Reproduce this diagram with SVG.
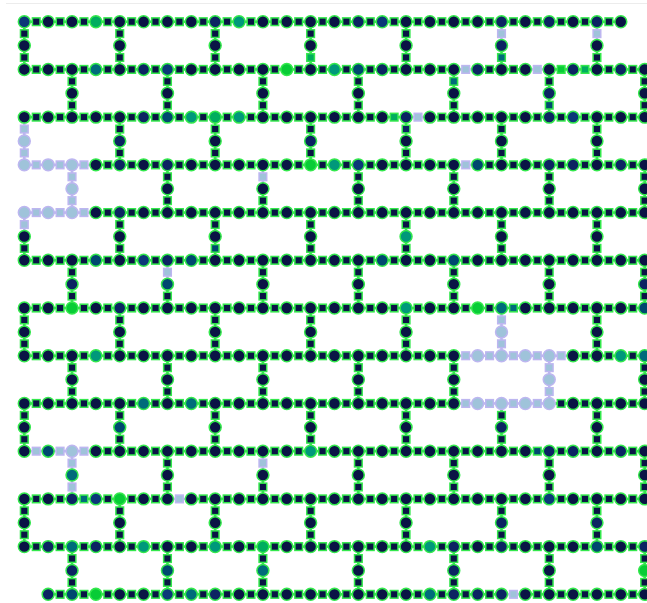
<svg xmlns="http://www.w3.org/2000/svg" xmlns:xlink="http://www.w3.org/1999/xlink" width="647" height="603" viewBox="0 0 647 603">
<style>
#e{fill:#0a1445;stroke:#33e84c}
#n{fill:#0a1445;stroke:#33e84c;stroke-width:.063px}
#n circle{r:.25px}
.a{fill:#0c2462}.b{fill:#0b3878}.t{fill:#00486f}.u{fill:#006b7a}.v{fill:#00987a}.w{fill:#00ad5e}.g{fill:#08cc36}
.x{fill:#9fc3da;stroke:#bdb6f0}
</style>
<defs>
<g id="h"><path d="M0 0H1" stroke-width=".11"/><rect x=".34" y="-.16" width=".32" height=".32" stroke-width=".063"/></g>
<g id="v"><path d="M0 0V1" stroke-width=".11"/><rect x="-.16" y=".34" width=".32" height=".32" stroke-width=".063"/></g>
</defs>
<rect width="647" height="603" fill="#fff"/>
<path d="M6 3.5H647" stroke="#ececec"/>
<g transform="translate(24.3 21.7) scale(23.86)">
<g id="e">
<use href="#h" x="0" y="0"/><use href="#h" x="1" y="0"/><use href="#h" x="2" y="0"/><use href="#h" x="3" y="0"/><use href="#h" x="4" y="0"/><use href="#h" x="5" y="0"/><use href="#h" x="6" y="0"/><use href="#h" x="7" y="0"/><use href="#h" x="8" y="0"/><use href="#h" x="9" y="0"/><use href="#h" x="10" y="0"/><use href="#h" x="11" y="0"/><use href="#h" x="12" y="0"/><use href="#h" x="13" y="0"/><use href="#h" x="14" y="0"/><use href="#h" x="15" y="0"/><use href="#h" x="16" y="0"/><use href="#h" x="17" y="0"/><use href="#h" x="18" y="0"/><use href="#h" x="19" y="0"/><use href="#h" x="20" y="0"/><use href="#h" x="21" y="0"/><use href="#h" x="22" y="0"/><use href="#h" x="23" y="0"/><use href="#h" x="24" y="0"/>
<use href="#h" x="0" y="2"/><use href="#h" x="1" y="2"/><use href="#h" x="2" y="2"/><use href="#h" x="3" y="2"/><use href="#h" x="4" y="2"/><use href="#h" x="5" y="2"/><use href="#h" x="6" y="2"/><use href="#h" x="7" y="2"/><use href="#h" x="8" y="2"/><use href="#h" x="9" y="2"/><use href="#h" x="10" y="2"/><use href="#h" x="11" y="2"/><use href="#h" x="12" y="2"/><use href="#h" x="13" y="2"/><use href="#h" x="14" y="2"/><use href="#h" x="15" y="2"/><use href="#h" x="16" y="2"/><use href="#h" x="17" y="2"/><use href="#h" x="18" y="2" class="x"/><use href="#h" x="19" y="2"/><use href="#h" x="20" y="2"/><use href="#h" x="21" y="2" class="x"/><use href="#h" x="22" y="2" class="g"/><use href="#h" x="23" y="2" class="w"/><use href="#h" x="24" y="2"/><use href="#h" x="25" y="2"/>
<use href="#h" x="0" y="4"/><use href="#h" x="1" y="4"/><use href="#h" x="2" y="4"/><use href="#h" x="3" y="4"/><use href="#h" x="4" y="4"/><use href="#h" x="5" y="4"/><use href="#h" x="6" y="4"/><use href="#h" x="7" y="4"/><use href="#h" x="8" y="4"/><use href="#h" x="9" y="4"/><use href="#h" x="10" y="4"/><use href="#h" x="11" y="4"/><use href="#h" x="12" y="4"/><use href="#h" x="13" y="4"/><use href="#h" x="14" y="4"/><use href="#h" x="15" y="4" class="w"/><use href="#h" x="16" y="4" class="x"/><use href="#h" x="17" y="4"/><use href="#h" x="18" y="4"/><use href="#h" x="19" y="4"/><use href="#h" x="20" y="4"/><use href="#h" x="21" y="4"/><use href="#h" x="22" y="4"/><use href="#h" x="23" y="4"/><use href="#h" x="24" y="4"/><use href="#h" x="25" y="4"/>
<use href="#h" x="0" y="6" class="x"/><use href="#h" x="1" y="6" class="x"/><use href="#h" x="2" y="6" class="x"/><use href="#h" x="3" y="6"/><use href="#h" x="4" y="6"/><use href="#h" x="5" y="6"/><use href="#h" x="6" y="6"/><use href="#h" x="7" y="6"/><use href="#h" x="8" y="6"/><use href="#h" x="9" y="6"/><use href="#h" x="10" y="6"/><use href="#h" x="11" y="6"/><use href="#h" x="12" y="6"/><use href="#h" x="13" y="6"/><use href="#h" x="14" y="6"/><use href="#h" x="15" y="6"/><use href="#h" x="16" y="6"/><use href="#h" x="17" y="6"/><use href="#h" x="18" y="6" class="x"/><use href="#h" x="19" y="6"/><use href="#h" x="20" y="6"/><use href="#h" x="21" y="6"/><use href="#h" x="22" y="6"/><use href="#h" x="23" y="6"/><use href="#h" x="24" y="6"/><use href="#h" x="25" y="6"/>
<use href="#h" x="0" y="8" class="x"/><use href="#h" x="1" y="8" class="x"/><use href="#h" x="2" y="8" class="x"/><use href="#h" x="3" y="8"/><use href="#h" x="4" y="8"/><use href="#h" x="5" y="8"/><use href="#h" x="6" y="8"/><use href="#h" x="7" y="8"/><use href="#h" x="8" y="8"/><use href="#h" x="9" y="8"/><use href="#h" x="10" y="8"/><use href="#h" x="11" y="8"/><use href="#h" x="12" y="8"/><use href="#h" x="13" y="8"/><use href="#h" x="14" y="8"/><use href="#h" x="15" y="8"/><use href="#h" x="16" y="8"/><use href="#h" x="17" y="8"/><use href="#h" x="18" y="8"/><use href="#h" x="19" y="8"/><use href="#h" x="20" y="8"/><use href="#h" x="21" y="8"/><use href="#h" x="22" y="8"/><use href="#h" x="23" y="8"/><use href="#h" x="24" y="8"/><use href="#h" x="25" y="8"/>
<use href="#h" x="0" y="10"/><use href="#h" x="1" y="10"/><use href="#h" x="2" y="10"/><use href="#h" x="3" y="10"/><use href="#h" x="4" y="10"/><use href="#h" x="5" y="10"/><use href="#h" x="6" y="10"/><use href="#h" x="7" y="10"/><use href="#h" x="8" y="10"/><use href="#h" x="9" y="10"/><use href="#h" x="10" y="10"/><use href="#h" x="11" y="10"/><use href="#h" x="12" y="10"/><use href="#h" x="13" y="10"/><use href="#h" x="14" y="10"/><use href="#h" x="15" y="10"/><use href="#h" x="16" y="10"/><use href="#h" x="17" y="10"/><use href="#h" x="18" y="10"/><use href="#h" x="19" y="10"/><use href="#h" x="20" y="10"/><use href="#h" x="21" y="10"/><use href="#h" x="22" y="10"/><use href="#h" x="23" y="10"/><use href="#h" x="24" y="10"/><use href="#h" x="25" y="10"/>
<use href="#h" x="0" y="12"/><use href="#h" x="1" y="12"/><use href="#h" x="2" y="12"/><use href="#h" x="3" y="12"/><use href="#h" x="4" y="12"/><use href="#h" x="5" y="12"/><use href="#h" x="6" y="12"/><use href="#h" x="7" y="12"/><use href="#h" x="8" y="12"/><use href="#h" x="9" y="12"/><use href="#h" x="10" y="12"/><use href="#h" x="11" y="12"/><use href="#h" x="12" y="12"/><use href="#h" x="13" y="12"/><use href="#h" x="14" y="12"/><use href="#h" x="15" y="12"/><use href="#h" x="16" y="12"/><use href="#h" x="17" y="12"/><use href="#h" x="18" y="12"/><use href="#h" x="19" y="12"/><use href="#h" x="20" y="12" class="u"/><use href="#h" x="21" y="12"/><use href="#h" x="22" y="12"/><use href="#h" x="23" y="12"/><use href="#h" x="24" y="12"/><use href="#h" x="25" y="12"/>
<use href="#h" x="0" y="14"/><use href="#h" x="1" y="14"/><use href="#h" x="2" y="14"/><use href="#h" x="3" y="14"/><use href="#h" x="4" y="14"/><use href="#h" x="5" y="14"/><use href="#h" x="6" y="14"/><use href="#h" x="7" y="14"/><use href="#h" x="8" y="14"/><use href="#h" x="9" y="14"/><use href="#h" x="10" y="14"/><use href="#h" x="11" y="14"/><use href="#h" x="12" y="14"/><use href="#h" x="13" y="14"/><use href="#h" x="14" y="14"/><use href="#h" x="15" y="14"/><use href="#h" x="16" y="14"/><use href="#h" x="17" y="14"/><use href="#h" x="18" y="14" class="x"/><use href="#h" x="19" y="14" class="x"/><use href="#h" x="20" y="14" class="x"/><use href="#h" x="21" y="14" class="x"/><use href="#h" x="22" y="14" class="x"/><use href="#h" x="23" y="14"/><use href="#h" x="24" y="14"/><use href="#h" x="25" y="14"/>
<use href="#h" x="0" y="16"/><use href="#h" x="1" y="16"/><use href="#h" x="2" y="16"/><use href="#h" x="3" y="16"/><use href="#h" x="4" y="16"/><use href="#h" x="5" y="16"/><use href="#h" x="6" y="16"/><use href="#h" x="7" y="16"/><use href="#h" x="8" y="16"/><use href="#h" x="9" y="16"/><use href="#h" x="10" y="16"/><use href="#h" x="11" y="16"/><use href="#h" x="12" y="16"/><use href="#h" x="13" y="16"/><use href="#h" x="14" y="16"/><use href="#h" x="15" y="16"/><use href="#h" x="16" y="16"/><use href="#h" x="17" y="16"/><use href="#h" x="18" y="16" class="x"/><use href="#h" x="19" y="16" class="x"/><use href="#h" x="20" y="16" class="x"/><use href="#h" x="21" y="16" class="x"/><use href="#h" x="22" y="16"/><use href="#h" x="23" y="16"/><use href="#h" x="24" y="16"/><use href="#h" x="25" y="16"/>
<use href="#h" x="0" y="18" class="x"/><use href="#h" x="1" y="18" class="x"/><use href="#h" x="2" y="18" class="x"/><use href="#h" x="3" y="18"/><use href="#h" x="4" y="18"/><use href="#h" x="5" y="18"/><use href="#h" x="6" y="18"/><use href="#h" x="7" y="18"/><use href="#h" x="8" y="18"/><use href="#h" x="9" y="18"/><use href="#h" x="10" y="18"/><use href="#h" x="11" y="18"/><use href="#h" x="12" y="18"/><use href="#h" x="13" y="18"/><use href="#h" x="14" y="18"/><use href="#h" x="15" y="18"/><use href="#h" x="16" y="18"/><use href="#h" x="17" y="18"/><use href="#h" x="18" y="18"/><use href="#h" x="19" y="18"/><use href="#h" x="20" y="18"/><use href="#h" x="21" y="18" class="t"/><use href="#h" x="22" y="18"/><use href="#h" x="23" y="18"/><use href="#h" x="24" y="18"/><use href="#h" x="25" y="18"/>
<use href="#h" x="0" y="20"/><use href="#h" x="1" y="20"/><use href="#h" x="2" y="20" class="u"/><use href="#h" x="3" y="20"/><use href="#h" x="4" y="20"/><use href="#h" x="5" y="20"/><use href="#h" x="6" y="20" class="x"/><use href="#h" x="7" y="20"/><use href="#h" x="8" y="20"/><use href="#h" x="9" y="20"/><use href="#h" x="10" y="20"/><use href="#h" x="11" y="20"/><use href="#h" x="12" y="20"/><use href="#h" x="13" y="20"/><use href="#h" x="14" y="20"/><use href="#h" x="15" y="20"/><use href="#h" x="16" y="20"/><use href="#h" x="17" y="20"/><use href="#h" x="18" y="20"/><use href="#h" x="19" y="20"/><use href="#h" x="20" y="20"/><use href="#h" x="21" y="20"/><use href="#h" x="22" y="20"/><use href="#h" x="23" y="20"/><use href="#h" x="24" y="20"/><use href="#h" x="25" y="20"/>
<use href="#h" x="0" y="22"/><use href="#h" x="1" y="22"/><use href="#h" x="2" y="22"/><use href="#h" x="3" y="22"/><use href="#h" x="4" y="22"/><use href="#h" x="5" y="22"/><use href="#h" x="6" y="22"/><use href="#h" x="7" y="22"/><use href="#h" x="8" y="22"/><use href="#h" x="9" y="22"/><use href="#h" x="10" y="22"/><use href="#h" x="11" y="22"/><use href="#h" x="12" y="22"/><use href="#h" x="13" y="22"/><use href="#h" x="14" y="22"/><use href="#h" x="15" y="22"/><use href="#h" x="16" y="22"/><use href="#h" x="17" y="22"/><use href="#h" x="18" y="22"/><use href="#h" x="19" y="22"/><use href="#h" x="20" y="22"/><use href="#h" x="21" y="22"/><use href="#h" x="22" y="22"/><use href="#h" x="23" y="22"/><use href="#h" x="24" y="22"/><use href="#h" x="25" y="22"/>
<use href="#h" x="1" y="24"/><use href="#h" x="2" y="24"/><use href="#h" x="3" y="24"/><use href="#h" x="4" y="24"/><use href="#h" x="5" y="24"/><use href="#h" x="6" y="24"/><use href="#h" x="7" y="24"/><use href="#h" x="8" y="24"/><use href="#h" x="9" y="24"/><use href="#h" x="10" y="24"/><use href="#h" x="11" y="24"/><use href="#h" x="12" y="24"/><use href="#h" x="13" y="24"/><use href="#h" x="14" y="24"/><use href="#h" x="15" y="24"/><use href="#h" x="16" y="24"/><use href="#h" x="17" y="24"/><use href="#h" x="18" y="24"/><use href="#h" x="19" y="24"/><use href="#h" x="20" y="24" class="x"/><use href="#h" x="21" y="24"/><use href="#h" x="22" y="24"/><use href="#h" x="23" y="24"/><use href="#h" x="24" y="24"/><use href="#h" x="25" y="24"/>
<use href="#v" x="0" y="0"/><use href="#v" x="0" y="1"/><use href="#v" x="4" y="0"/><use href="#v" x="4" y="1"/><use href="#v" x="8" y="0"/><use href="#v" x="8" y="1"/><use href="#v" x="12" y="0"/><use href="#v" x="12" y="1" class="w"/><use href="#v" x="16" y="0"/><use href="#v" x="16" y="1"/><use href="#v" x="20" y="0" class="x"/><use href="#v" x="20" y="1" class="u"/><use href="#v" x="24" y="0" class="x"/><use href="#v" x="24" y="1"/>
<use href="#v" x="2" y="2"/><use href="#v" x="2" y="3"/><use href="#v" x="6" y="2"/><use href="#v" x="6" y="3"/><use href="#v" x="10" y="2"/><use href="#v" x="10" y="3"/><use href="#v" x="14" y="2"/><use href="#v" x="14" y="3"/><use href="#v" x="18" y="2" class="u"/><use href="#v" x="18" y="3"/><use href="#v" x="22" y="2"/><use href="#v" x="22" y="3" class="t"/><use href="#v" x="26" y="2"/><use href="#v" x="26" y="3"/>
<use href="#v" x="0" y="4" class="x"/><use href="#v" x="0" y="5" class="x"/><use href="#v" x="4" y="4"/><use href="#v" x="4" y="5"/><use href="#v" x="8" y="4"/><use href="#v" x="8" y="5"/><use href="#v" x="12" y="4"/><use href="#v" x="12" y="5"/><use href="#v" x="16" y="4" class="a"/><use href="#v" x="16" y="5"/><use href="#v" x="20" y="4"/><use href="#v" x="20" y="5"/><use href="#v" x="24" y="4"/><use href="#v" x="24" y="5"/>
<use href="#v" x="2" y="6" class="x"/><use href="#v" x="2" y="7" class="x"/><use href="#v" x="6" y="6"/><use href="#v" x="6" y="7"/><use href="#v" x="10" y="6" class="x"/><use href="#v" x="10" y="7"/><use href="#v" x="14" y="6"/><use href="#v" x="14" y="7"/><use href="#v" x="18" y="6"/><use href="#v" x="18" y="7"/><use href="#v" x="22" y="6"/><use href="#v" x="22" y="7"/><use href="#v" x="26" y="6"/><use href="#v" x="26" y="7"/>
<use href="#v" x="0" y="8" class="x"/><use href="#v" x="0" y="9"/><use href="#v" x="4" y="8"/><use href="#v" x="4" y="9"/><use href="#v" x="8" y="8"/><use href="#v" x="8" y="9" class="t"/><use href="#v" x="12" y="8"/><use href="#v" x="12" y="9"/><use href="#v" x="16" y="8"/><use href="#v" x="16" y="9"/><use href="#v" x="20" y="8"/><use href="#v" x="20" y="9"/><use href="#v" x="24" y="8"/><use href="#v" x="24" y="9"/>
<use href="#v" x="2" y="10"/><use href="#v" x="2" y="11"/><use href="#v" x="6" y="10" class="x"/><use href="#v" x="6" y="11"/><use href="#v" x="10" y="10"/><use href="#v" x="10" y="11"/><use href="#v" x="14" y="10"/><use href="#v" x="14" y="11"/><use href="#v" x="18" y="10"/><use href="#v" x="18" y="11"/><use href="#v" x="22" y="10"/><use href="#v" x="22" y="11"/><use href="#v" x="26" y="10"/><use href="#v" x="26" y="11"/>
<use href="#v" x="0" y="12"/><use href="#v" x="0" y="13"/><use href="#v" x="4" y="12"/><use href="#v" x="4" y="13"/><use href="#v" x="8" y="12"/><use href="#v" x="8" y="13"/><use href="#v" x="12" y="12"/><use href="#v" x="12" y="13"/><use href="#v" x="16" y="12"/><use href="#v" x="16" y="13"/><use href="#v" x="20" y="12" class="x"/><use href="#v" x="20" y="13" class="x"/><use href="#v" x="24" y="12"/><use href="#v" x="24" y="13"/>
<use href="#v" x="2" y="14"/><use href="#v" x="2" y="15"/><use href="#v" x="6" y="14"/><use href="#v" x="6" y="15"/><use href="#v" x="10" y="14"/><use href="#v" x="10" y="15"/><use href="#v" x="14" y="14"/><use href="#v" x="14" y="15"/><use href="#v" x="18" y="14"/><use href="#v" x="18" y="15"/><use href="#v" x="22" y="14" class="x"/><use href="#v" x="22" y="15" class="x"/><use href="#v" x="26" y="14"/><use href="#v" x="26" y="15"/>
<use href="#v" x="0" y="16"/><use href="#v" x="0" y="17"/><use href="#v" x="4" y="16"/><use href="#v" x="4" y="17"/><use href="#v" x="8" y="16"/><use href="#v" x="8" y="17"/><use href="#v" x="12" y="16"/><use href="#v" x="12" y="17"/><use href="#v" x="16" y="16"/><use href="#v" x="16" y="17"/><use href="#v" x="20" y="16"/><use href="#v" x="20" y="17"/><use href="#v" x="24" y="16"/><use href="#v" x="24" y="17"/>
<use href="#v" x="2" y="18" class="x"/><use href="#v" x="2" y="19" class="x"/><use href="#v" x="6" y="18"/><use href="#v" x="6" y="19"/><use href="#v" x="10" y="18" class="x"/><use href="#v" x="10" y="19"/><use href="#v" x="14" y="18"/><use href="#v" x="14" y="19"/><use href="#v" x="18" y="18"/><use href="#v" x="18" y="19"/><use href="#v" x="22" y="18"/><use href="#v" x="22" y="19"/><use href="#v" x="26" y="18"/><use href="#v" x="26" y="19"/>
<use href="#v" x="0" y="20"/><use href="#v" x="0" y="21"/><use href="#v" x="4" y="20"/><use href="#v" x="4" y="21"/><use href="#v" x="8" y="20"/><use href="#v" x="8" y="21"/><use href="#v" x="12" y="20"/><use href="#v" x="12" y="21"/><use href="#v" x="16" y="20"/><use href="#v" x="16" y="21"/><use href="#v" x="20" y="20"/><use href="#v" x="20" y="21"/><use href="#v" x="24" y="20"/><use href="#v" x="24" y="21"/>
<use href="#v" x="2" y="22"/><use href="#v" x="2" y="23"/><use href="#v" x="6" y="22"/><use href="#v" x="6" y="23"/><use href="#v" x="10" y="22"/><use href="#v" x="10" y="23"/><use href="#v" x="14" y="22"/><use href="#v" x="14" y="23"/><use href="#v" x="18" y="22"/><use href="#v" x="18" y="23"/><use href="#v" x="22" y="22"/><use href="#v" x="22" y="23"/><use href="#v" x="26" y="22"/><use href="#v" x="26" y="23"/>
</g>
<g id="n">
<g id="q0_0"><circle class="b" cx="0" cy="0"/></g><g id="q0_1"><circle cx="1" cy="0"/></g><g id="q0_2"><circle cx="2" cy="0"/></g><g id="q0_3"><circle class="w" cx="3" cy="0"/></g><g id="q0_4"><circle cx="4" cy="0"/></g><g id="q0_5"><circle cx="5" cy="0"/></g><g id="q0_6"><circle cx="6" cy="0"/></g><g id="q0_7"><circle cx="7" cy="0"/></g><g id="q0_8"><circle class="a" cx="8" cy="0"/></g><g id="q0_9"><circle class="v" cx="9" cy="0"/></g><g id="q0_10"><circle cx="10" cy="0"/></g><g id="q0_11"><circle cx="11" cy="0"/></g><g id="q0_12"><circle cx="12" cy="0"/></g><g id="q0_13"><circle cx="13" cy="0"/></g><g id="q0_14"><circle class="a" cx="14" cy="0"/></g><g id="q0_15"><circle class="b" cx="15" cy="0"/></g><g id="q0_16"><circle cx="16" cy="0"/></g><g id="q0_17"><circle cx="17" cy="0"/></g><g id="q0_18"><circle cx="18" cy="0"/></g><g id="q0_19"><circle cx="19" cy="0"/></g><g id="q0_20"><circle class="a" cx="20" cy="0"/></g><g id="q0_21"><circle cx="21" cy="0"/></g><g id="q0_22"><circle class="a" cx="22" cy="0"/></g><g id="q0_23"><circle cx="23" cy="0"/></g><g id="q0_24"><circle class="a" cx="24" cy="0"/></g><g id="q0_25"><circle cx="25" cy="0"/></g>
<g id="q1_0"><circle cx="0" cy="1"/></g><g id="q1_4"><circle cx="4" cy="1"/></g><g id="q1_8"><circle cx="8" cy="1"/></g><g id="q1_12"><circle cx="12" cy="1"/></g><g id="q1_16"><circle cx="16" cy="1"/></g><g id="q1_20"><circle class="a" cx="20" cy="1"/></g><g id="q1_24"><circle cx="24" cy="1"/></g>
<g id="q2_0"><circle cx="0" cy="2"/></g><g id="q2_1"><circle cx="1" cy="2"/></g><g id="q2_2"><circle cx="2" cy="2"/></g><g id="q2_3"><circle class="u" cx="3" cy="2"/></g><g id="q2_4"><circle cx="4" cy="2"/></g><g id="q2_5"><circle class="a" cx="5" cy="2"/></g><g id="q2_6"><circle class="b" cx="6" cy="2"/></g><g id="q2_7"><circle cx="7" cy="2"/></g><g id="q2_8"><circle cx="8" cy="2"/></g><g id="q2_9"><circle cx="9" cy="2"/></g><g id="q2_10"><circle cx="10" cy="2"/></g><g id="q2_11"><circle class="g" cx="11" cy="2"/></g><g id="q2_12"><circle cx="12" cy="2"/></g><g id="q2_13"><circle class="v" cx="13" cy="2"/></g><g id="q2_14"><circle class="t" cx="14" cy="2"/></g><g id="q2_15"><circle class="a" cx="15" cy="2"/></g><g id="q2_16"><circle cx="16" cy="2"/></g><g id="q2_17"><circle cx="17" cy="2"/></g><g id="q2_18"><circle cx="18" cy="2"/></g><g id="q2_19"><circle class="a" cx="19" cy="2"/></g><g id="q2_20"><circle cx="20" cy="2"/></g><g id="q2_21"><circle cx="21" cy="2"/></g><g id="q2_22"><circle cx="22" cy="2"/></g><g id="q2_23"><circle class="a" cx="23" cy="2"/></g><g id="q2_24"><circle cx="24" cy="2"/></g><g id="q2_25"><circle class="a" cx="25" cy="2"/></g><g id="q2_26"><circle cx="26" cy="2"/></g>
<g id="q3_2"><circle cx="2" cy="3"/></g><g id="q3_6"><circle cx="6" cy="3"/></g><g id="q3_10"><circle cx="10" cy="3"/></g><g id="q3_14"><circle cx="14" cy="3"/></g><g id="q3_18"><circle cx="18" cy="3"/></g><g id="q3_22"><circle class="a" cx="22" cy="3"/></g><g id="q3_26"><circle cx="26" cy="3"/></g>
<g id="q4_0"><circle cx="0" cy="4"/></g><g id="q4_1"><circle cx="1" cy="4"/></g><g id="q4_2"><circle cx="2" cy="4"/></g><g id="q4_3"><circle cx="3" cy="4"/></g><g id="q4_4"><circle cx="4" cy="4"/></g><g id="q4_5"><circle class="a" cx="5" cy="4"/></g><g id="q4_6"><circle class="t" cx="6" cy="4"/></g><g id="q4_7"><circle class="v" cx="7" cy="4"/></g><g id="q4_8"><circle class="w" cx="8" cy="4"/></g><g id="q4_9"><circle class="v" cx="9" cy="4"/></g><g id="q4_10"><circle cx="10" cy="4"/></g><g id="q4_11"><circle cx="11" cy="4"/></g><g id="q4_12"><circle cx="12" cy="4"/></g><g id="q4_13"><circle cx="13" cy="4"/></g><g id="q4_14"><circle cx="14" cy="4"/></g><g id="q4_15"><circle cx="15" cy="4"/></g><g id="q4_16"><circle class="a" cx="16" cy="4"/></g><g id="q4_17"><circle cx="17" cy="4"/></g><g id="q4_18"><circle cx="18" cy="4"/></g><g id="q4_19"><circle cx="19" cy="4"/></g><g id="q4_20"><circle cx="20" cy="4"/></g><g id="q4_21"><circle cx="21" cy="4"/></g><g id="q4_22"><circle class="a" cx="22" cy="4"/></g><g id="q4_23"><circle class="b" cx="23" cy="4"/></g><g id="q4_24"><circle cx="24" cy="4"/></g><g id="q4_25"><circle cx="25" cy="4"/></g><g id="q4_26"><circle cx="26" cy="4"/></g>
<g id="q5_0"><circle class="x" cx="0" cy="5"/></g><g id="q5_4"><circle class="a" cx="4" cy="5"/></g><g id="q5_8"><circle cx="8" cy="5"/></g><g id="q5_12"><circle class="a" cx="12" cy="5"/></g><g id="q5_16"><circle cx="16" cy="5"/></g><g id="q5_20"><circle cx="20" cy="5"/></g><g id="q5_24"><circle cx="24" cy="5"/></g>
<g id="q6_0"><circle class="x" cx="0" cy="6"/></g><g id="q6_1"><circle class="x" cx="1" cy="6"/></g><g id="q6_2"><circle class="x" cx="2" cy="6"/></g><g id="q6_3"><circle cx="3" cy="6"/></g><g id="q6_4"><circle class="a" cx="4" cy="6"/></g><g id="q6_5"><circle cx="5" cy="6"/></g><g id="q6_6"><circle class="a" cx="6" cy="6"/></g><g id="q6_7"><circle cx="7" cy="6"/></g><g id="q6_8"><circle cx="8" cy="6"/></g><g id="q6_9"><circle cx="9" cy="6"/></g><g id="q6_10"><circle cx="10" cy="6"/></g><g id="q6_11"><circle cx="11" cy="6"/></g><g id="q6_12"><circle class="g" cx="12" cy="6"/></g><g id="q6_13"><circle class="v" cx="13" cy="6"/></g><g id="q6_14"><circle class="b" cx="14" cy="6"/></g><g id="q6_15"><circle cx="15" cy="6"/></g><g id="q6_16"><circle cx="16" cy="6"/></g><g id="q6_17"><circle cx="17" cy="6"/></g><g id="q6_18"><circle cx="18" cy="6"/></g><g id="q6_19"><circle class="t" cx="19" cy="6"/></g><g id="q6_20"><circle cx="20" cy="6"/></g><g id="q6_21"><circle cx="21" cy="6"/></g><g id="q6_22"><circle class="a" cx="22" cy="6"/></g><g id="q6_23"><circle class="a" cx="23" cy="6"/></g><g id="q6_24"><circle cx="24" cy="6"/></g><g id="q6_25"><circle class="a" cx="25" cy="6"/></g><g id="q6_26"><circle cx="26" cy="6"/></g>
<g id="q7_2"><circle class="x" cx="2" cy="7"/></g><g id="q7_6"><circle cx="6" cy="7"/></g><g id="q7_10"><circle cx="10" cy="7"/></g><g id="q7_14"><circle cx="14" cy="7"/></g><g id="q7_18"><circle cx="18" cy="7"/></g><g id="q7_22"><circle cx="22" cy="7"/></g><g id="q7_26"><circle cx="26" cy="7"/></g>
<g id="q8_0"><circle class="x" cx="0" cy="8"/></g><g id="q8_1"><circle class="x" cx="1" cy="8"/></g><g id="q8_2"><circle class="x" cx="2" cy="8"/></g><g id="q8_3"><circle cx="3" cy="8"/></g><g id="q8_4"><circle class="a" cx="4" cy="8"/></g><g id="q8_5"><circle cx="5" cy="8"/></g><g id="q8_6"><circle cx="6" cy="8"/></g><g id="q8_7"><circle cx="7" cy="8"/></g><g id="q8_8"><circle cx="8" cy="8"/></g><g id="q8_9"><circle cx="9" cy="8"/></g><g id="q8_10"><circle cx="10" cy="8"/></g><g id="q8_11"><circle cx="11" cy="8"/></g><g id="q8_12"><circle cx="12" cy="8"/></g><g id="q8_13"><circle cx="13" cy="8"/></g><g id="q8_14"><circle cx="14" cy="8"/></g><g id="q8_15"><circle cx="15" cy="8"/></g><g id="q8_16"><circle cx="16" cy="8"/></g><g id="q8_17"><circle cx="17" cy="8"/></g><g id="q8_18"><circle cx="18" cy="8"/></g><g id="q8_19"><circle cx="19" cy="8"/></g><g id="q8_20"><circle cx="20" cy="8"/></g><g id="q8_21"><circle cx="21" cy="8"/></g><g id="q8_22"><circle cx="22" cy="8"/></g><g id="q8_23"><circle cx="23" cy="8"/></g><g id="q8_24"><circle cx="24" cy="8"/></g><g id="q8_25"><circle cx="25" cy="8"/></g><g id="q8_26"><circle cx="26" cy="8"/></g>
<g id="q9_0"><circle cx="0" cy="9"/></g><g id="q9_4"><circle cx="4" cy="9"/></g><g id="q9_8"><circle cx="8" cy="9"/></g><g id="q9_12"><circle cx="12" cy="9"/></g><g id="q9_16"><circle class="v" cx="16" cy="9"/></g><g id="q9_20"><circle cx="20" cy="9"/></g><g id="q9_24"><circle cx="24" cy="9"/></g>
<g id="q10_0"><circle cx="0" cy="10"/></g><g id="q10_1"><circle cx="1" cy="10"/></g><g id="q10_2"><circle cx="2" cy="10"/></g><g id="q10_3"><circle class="t" cx="3" cy="10"/></g><g id="q10_4"><circle cx="4" cy="10"/></g><g id="q10_5"><circle class="b" cx="5" cy="10"/></g><g id="q10_6"><circle class="a" cx="6" cy="10"/></g><g id="q10_7"><circle class="t" cx="7" cy="10"/></g><g id="q10_8"><circle cx="8" cy="10"/></g><g id="q10_9"><circle cx="9" cy="10"/></g><g id="q10_10"><circle cx="10" cy="10"/></g><g id="q10_11"><circle cx="11" cy="10"/></g><g id="q10_12"><circle cx="12" cy="10"/></g><g id="q10_13"><circle cx="13" cy="10"/></g><g id="q10_14"><circle cx="14" cy="10"/></g><g id="q10_15"><circle class="t" cx="15" cy="10"/></g><g id="q10_16"><circle cx="16" cy="10"/></g><g id="q10_17"><circle cx="17" cy="10"/></g><g id="q10_18"><circle class="t" cx="18" cy="10"/></g><g id="q10_19"><circle cx="19" cy="10"/></g><g id="q10_20"><circle cx="20" cy="10"/></g><g id="q10_21"><circle cx="21" cy="10"/></g><g id="q10_22"><circle cx="22" cy="10"/></g><g id="q10_23"><circle cx="23" cy="10"/></g><g id="q10_24"><circle cx="24" cy="10"/></g><g id="q10_25"><circle cx="25" cy="10"/></g><g id="q10_26"><circle cx="26" cy="10"/></g>
<g id="q11_2"><circle class="a" cx="2" cy="11"/></g><g id="q11_6"><circle class="t" cx="6" cy="11"/></g><g id="q11_10"><circle cx="10" cy="11"/></g><g id="q11_14"><circle cx="14" cy="11"/></g><g id="q11_18"><circle cx="18" cy="11"/></g><g id="q11_22"><circle cx="22" cy="11"/></g><g id="q11_26"><circle class="a" cx="26" cy="11"/></g>
<g id="q12_0"><circle cx="0" cy="12"/></g><g id="q12_1"><circle cx="1" cy="12"/></g><g id="q12_2"><circle class="g" cx="2" cy="12"/></g><g id="q12_3"><circle cx="3" cy="12"/></g><g id="q12_4"><circle class="a" cx="4" cy="12"/></g><g id="q12_5"><circle cx="5" cy="12"/></g><g id="q12_6"><circle cx="6" cy="12"/></g><g id="q12_7"><circle cx="7" cy="12"/></g><g id="q12_8"><circle cx="8" cy="12"/></g><g id="q12_9"><circle cx="9" cy="12"/></g><g id="q12_10"><circle cx="10" cy="12"/></g><g id="q12_11"><circle cx="11" cy="12"/></g><g id="q12_12"><circle cx="12" cy="12"/></g><g id="q12_13"><circle cx="13" cy="12"/></g><g id="q12_14"><circle cx="14" cy="12"/></g><g id="q12_15"><circle cx="15" cy="12"/></g><g id="q12_16"><circle class="v" cx="16" cy="12"/></g><g id="q12_17"><circle cx="17" cy="12"/></g><g id="q12_18"><circle cx="18" cy="12"/></g><g id="q12_19"><circle class="g" cx="19" cy="12"/></g><g id="q12_20"><circle class="u" cx="20" cy="12"/></g><g id="q12_21"><circle cx="21" cy="12"/></g><g id="q12_22"><circle cx="22" cy="12"/></g><g id="q12_23"><circle cx="23" cy="12"/></g><g id="q12_24"><circle cx="24" cy="12"/></g><g id="q12_25"><circle cx="25" cy="12"/></g><g id="q12_26"><circle class="t" cx="26" cy="12"/></g>
<g id="q13_0"><circle cx="0" cy="13"/></g><g id="q13_4"><circle cx="4" cy="13"/></g><g id="q13_8"><circle cx="8" cy="13"/></g><g id="q13_12"><circle cx="12" cy="13"/></g><g id="q13_16"><circle cx="16" cy="13"/></g><g id="q13_20"><circle class="x" cx="20" cy="13"/></g><g id="q13_24"><circle cx="24" cy="13"/></g>
<g id="q14_0"><circle cx="0" cy="14"/></g><g id="q14_1"><circle cx="1" cy="14"/></g><g id="q14_2"><circle cx="2" cy="14"/></g><g id="q14_3"><circle class="v" cx="3" cy="14"/></g><g id="q14_4"><circle cx="4" cy="14"/></g><g id="q14_5"><circle cx="5" cy="14"/></g><g id="q14_6"><circle cx="6" cy="14"/></g><g id="q14_7"><circle cx="7" cy="14"/></g><g id="q14_8"><circle cx="8" cy="14"/></g><g id="q14_9"><circle cx="9" cy="14"/></g><g id="q14_10"><circle cx="10" cy="14"/></g><g id="q14_11"><circle cx="11" cy="14"/></g><g id="q14_12"><circle cx="12" cy="14"/></g><g id="q14_13"><circle cx="13" cy="14"/></g><g id="q14_14"><circle cx="14" cy="14"/></g><g id="q14_15"><circle cx="15" cy="14"/></g><g id="q14_16"><circle cx="16" cy="14"/></g><g id="q14_17"><circle cx="17" cy="14"/></g><g id="q14_18"><circle cx="18" cy="14"/></g><g id="q14_19"><circle class="x" cx="19" cy="14"/></g><g id="q14_20"><circle class="x" cx="20" cy="14"/></g><g id="q14_21"><circle class="x" cx="21" cy="14"/></g><g id="q14_22"><circle class="x" cx="22" cy="14"/></g><g id="q14_23"><circle cx="23" cy="14"/></g><g id="q14_24"><circle cx="24" cy="14"/></g><g id="q14_25"><circle class="v" cx="25" cy="14"/></g><g id="q14_26"><circle class="u" cx="26" cy="14"/></g>
<g id="q15_2"><circle cx="2" cy="15"/></g><g id="q15_6"><circle cx="6" cy="15"/></g><g id="q15_10"><circle cx="10" cy="15"/></g><g id="q15_14"><circle cx="14" cy="15"/></g><g id="q15_18"><circle cx="18" cy="15"/></g><g id="q15_22"><circle class="x" cx="22" cy="15"/></g><g id="q15_26"><circle cx="26" cy="15"/></g>
<g id="q16_0"><circle cx="0" cy="16"/></g><g id="q16_1"><circle cx="1" cy="16"/></g><g id="q16_2"><circle cx="2" cy="16"/></g><g id="q16_3"><circle cx="3" cy="16"/></g><g id="q16_4"><circle cx="4" cy="16"/></g><g id="q16_5"><circle class="u" cx="5" cy="16"/></g><g id="q16_6"><circle cx="6" cy="16"/></g><g id="q16_7"><circle class="u" cx="7" cy="16"/></g><g id="q16_8"><circle cx="8" cy="16"/></g><g id="q16_9"><circle cx="9" cy="16"/></g><g id="q16_10"><circle cx="10" cy="16"/></g><g id="q16_11"><circle cx="11" cy="16"/></g><g id="q16_12"><circle cx="12" cy="16"/></g><g id="q16_13"><circle cx="13" cy="16"/></g><g id="q16_14"><circle cx="14" cy="16"/></g><g id="q16_15"><circle cx="15" cy="16"/></g><g id="q16_16"><circle cx="16" cy="16"/></g><g id="q16_17"><circle cx="17" cy="16"/></g><g id="q16_18"><circle cx="18" cy="16"/></g><g id="q16_19"><circle class="x" cx="19" cy="16"/></g><g id="q16_20"><circle class="x" cx="20" cy="16"/></g><g id="q16_21"><circle class="x" cx="21" cy="16"/></g><g id="q16_22"><circle class="x" cx="22" cy="16"/></g><g id="q16_23"><circle cx="23" cy="16"/></g><g id="q16_24"><circle cx="24" cy="16"/></g><g id="q16_25"><circle cx="25" cy="16"/></g><g id="q16_26"><circle cx="26" cy="16"/></g>
<g id="q17_0"><circle cx="0" cy="17"/></g><g id="q17_4"><circle class="t" cx="4" cy="17"/></g><g id="q17_8"><circle cx="8" cy="17"/></g><g id="q17_12"><circle cx="12" cy="17"/></g><g id="q17_16"><circle cx="16" cy="17"/></g><g id="q17_20"><circle class="a" cx="20" cy="17"/></g><g id="q17_24"><circle cx="24" cy="17"/></g>
<g id="q18_0"><circle cx="0" cy="18"/></g><g id="q18_1"><circle class="t" cx="1" cy="18"/></g><g id="q18_2"><circle class="x" cx="2" cy="18"/></g><g id="q18_3"><circle cx="3" cy="18"/></g><g id="q18_4"><circle cx="4" cy="18"/></g><g id="q18_5"><circle cx="5" cy="18"/></g><g id="q18_6"><circle cx="6" cy="18"/></g><g id="q18_7"><circle cx="7" cy="18"/></g><g id="q18_8"><circle cx="8" cy="18"/></g><g id="q18_9"><circle cx="9" cy="18"/></g><g id="q18_10"><circle cx="10" cy="18"/></g><g id="q18_11"><circle cx="11" cy="18"/></g><g id="q18_12"><circle class="v" cx="12" cy="18"/></g><g id="q18_13"><circle cx="13" cy="18"/></g><g id="q18_14"><circle cx="14" cy="18"/></g><g id="q18_15"><circle cx="15" cy="18"/></g><g id="q18_16"><circle cx="16" cy="18"/></g><g id="q18_17"><circle cx="17" cy="18"/></g><g id="q18_18"><circle cx="18" cy="18"/></g><g id="q18_19"><circle cx="19" cy="18"/></g><g id="q18_20"><circle cx="20" cy="18"/></g><g id="q18_21"><circle cx="21" cy="18"/></g><g id="q18_22"><circle class="a" cx="22" cy="18"/></g><g id="q18_23"><circle class="a" cx="23" cy="18"/></g><g id="q18_24"><circle cx="24" cy="18"/></g><g id="q18_25"><circle class="a" cx="25" cy="18"/></g><g id="q18_26"><circle cx="26" cy="18"/></g>
<g id="q19_2"><circle class="u" cx="2" cy="19"/></g><g id="q19_6"><circle cx="6" cy="19"/></g><g id="q19_10"><circle cx="10" cy="19"/></g><g id="q19_14"><circle cx="14" cy="19"/></g><g id="q19_18"><circle cx="18" cy="19"/></g><g id="q19_22"><circle cx="22" cy="19"/></g><g id="q19_26"><circle cx="26" cy="19"/></g>
<g id="q20_0"><circle cx="0" cy="20"/></g><g id="q20_1"><circle cx="1" cy="20"/></g><g id="q20_2"><circle class="a" cx="2" cy="20"/></g><g id="q20_3"><circle class="b" cx="3" cy="20"/></g><g id="q20_4"><circle class="g" cx="4" cy="20"/></g><g id="q20_5"><circle cx="5" cy="20"/></g><g id="q20_6"><circle cx="6" cy="20"/></g><g id="q20_7"><circle cx="7" cy="20"/></g><g id="q20_8"><circle cx="8" cy="20"/></g><g id="q20_9"><circle cx="9" cy="20"/></g><g id="q20_10"><circle cx="10" cy="20"/></g><g id="q20_11"><circle cx="11" cy="20"/></g><g id="q20_12"><circle cx="12" cy="20"/></g><g id="q20_13"><circle cx="13" cy="20"/></g><g id="q20_14"><circle cx="14" cy="20"/></g><g id="q20_15"><circle cx="15" cy="20"/></g><g id="q20_16"><circle cx="16" cy="20"/></g><g id="q20_17"><circle cx="17" cy="20"/></g><g id="q20_18"><circle cx="18" cy="20"/></g><g id="q20_19"><circle cx="19" cy="20"/></g><g id="q20_20"><circle cx="20" cy="20"/></g><g id="q20_21"><circle cx="21" cy="20"/></g><g id="q20_22"><circle class="b" cx="22" cy="20"/></g><g id="q20_23"><circle cx="23" cy="20"/></g><g id="q20_24"><circle cx="24" cy="20"/></g><g id="q20_25"><circle cx="25" cy="20"/></g><g id="q20_26"><circle cx="26" cy="20"/></g>
<g id="q21_0"><circle cx="0" cy="21"/></g><g id="q21_4"><circle cx="4" cy="21"/></g><g id="q21_8"><circle cx="8" cy="21"/></g><g id="q21_12"><circle cx="12" cy="21"/></g><g id="q21_16"><circle cx="16" cy="21"/></g><g id="q21_20"><circle class="a" cx="20" cy="21"/></g><g id="q21_24"><circle class="a" cx="24" cy="21"/></g>
<g id="q22_0"><circle cx="0" cy="22"/></g><g id="q22_1"><circle class="a" cx="1" cy="22"/></g><g id="q22_2"><circle class="u" cx="2" cy="22"/></g><g id="q22_3"><circle class="a" cx="3" cy="22"/></g><g id="q22_4"><circle cx="4" cy="22"/></g><g id="q22_5"><circle class="v" cx="5" cy="22"/></g><g id="q22_6"><circle cx="6" cy="22"/></g><g id="q22_7"><circle cx="7" cy="22"/></g><g id="q22_8"><circle class="v" cx="8" cy="22"/></g><g id="q22_9"><circle cx="9" cy="22"/></g><g id="q22_10"><circle class="w" cx="10" cy="22"/></g><g id="q22_11"><circle cx="11" cy="22"/></g><g id="q22_12"><circle cx="12" cy="22"/></g><g id="q22_13"><circle cx="13" cy="22"/></g><g id="q22_14"><circle cx="14" cy="22"/></g><g id="q22_15"><circle cx="15" cy="22"/></g><g id="q22_16"><circle cx="16" cy="22"/></g><g id="q22_17"><circle class="v" cx="17" cy="22"/></g><g id="q22_18"><circle class="a" cx="18" cy="22"/></g><g id="q22_19"><circle cx="19" cy="22"/></g><g id="q22_20"><circle class="a" cx="20" cy="22"/></g><g id="q22_21"><circle cx="21" cy="22"/></g><g id="q22_22"><circle cx="22" cy="22"/></g><g id="q22_23"><circle cx="23" cy="22"/></g><g id="q22_24"><circle class="t" cx="24" cy="22"/></g><g id="q22_25"><circle cx="25" cy="22"/></g><g id="q22_26"><circle class="a" cx="26" cy="22"/></g>
<g id="q23_2"><circle class="a" cx="2" cy="23"/></g><g id="q23_6"><circle class="t" cx="6" cy="23"/></g><g id="q23_10"><circle class="u" cx="10" cy="23"/></g><g id="q23_14"><circle cx="14" cy="23"/></g><g id="q23_18"><circle class="a" cx="18" cy="23"/></g><g id="q23_22"><circle cx="22" cy="23"/></g><g id="q23_26"><circle class="g" cx="26" cy="23"/></g>
<g id="q24_1"><circle class="a" cx="1" cy="24"/></g><g id="q24_2"><circle class="t" cx="2" cy="24"/></g><g id="q24_3"><circle class="g" cx="3" cy="24"/></g><g id="q24_4"><circle cx="4" cy="24"/></g><g id="q24_5"><circle cx="5" cy="24"/></g><g id="q24_6"><circle class="b" cx="6" cy="24"/></g><g id="q24_7"><circle class="u" cx="7" cy="24"/></g><g id="q24_8"><circle class="a" cx="8" cy="24"/></g><g id="q24_9"><circle cx="9" cy="24"/></g><g id="q24_10"><circle cx="10" cy="24"/></g><g id="q24_11"><circle cx="11" cy="24"/></g><g id="q24_12"><circle cx="12" cy="24"/></g><g id="q24_13"><circle cx="13" cy="24"/></g><g id="q24_14"><circle cx="14" cy="24"/></g><g id="q24_15"><circle cx="15" cy="24"/></g><g id="q24_16"><circle cx="16" cy="24"/></g><g id="q24_17"><circle class="u" cx="17" cy="24"/></g><g id="q24_18"><circle class="a" cx="18" cy="24"/></g><g id="q24_19"><circle class="a" cx="19" cy="24"/></g><g id="q24_20"><circle class="a" cx="20" cy="24"/></g><g id="q24_21"><circle cx="21" cy="24"/></g><g id="q24_22"><circle cx="22" cy="24"/></g><g id="q24_23"><circle cx="23" cy="24"/></g><g id="q24_24"><circle cx="24" cy="24"/></g><g id="q24_25"><circle cx="25" cy="24"/></g><g id="q24_26"><circle cx="26" cy="24"/></g>
</g>
</g>
</svg>
